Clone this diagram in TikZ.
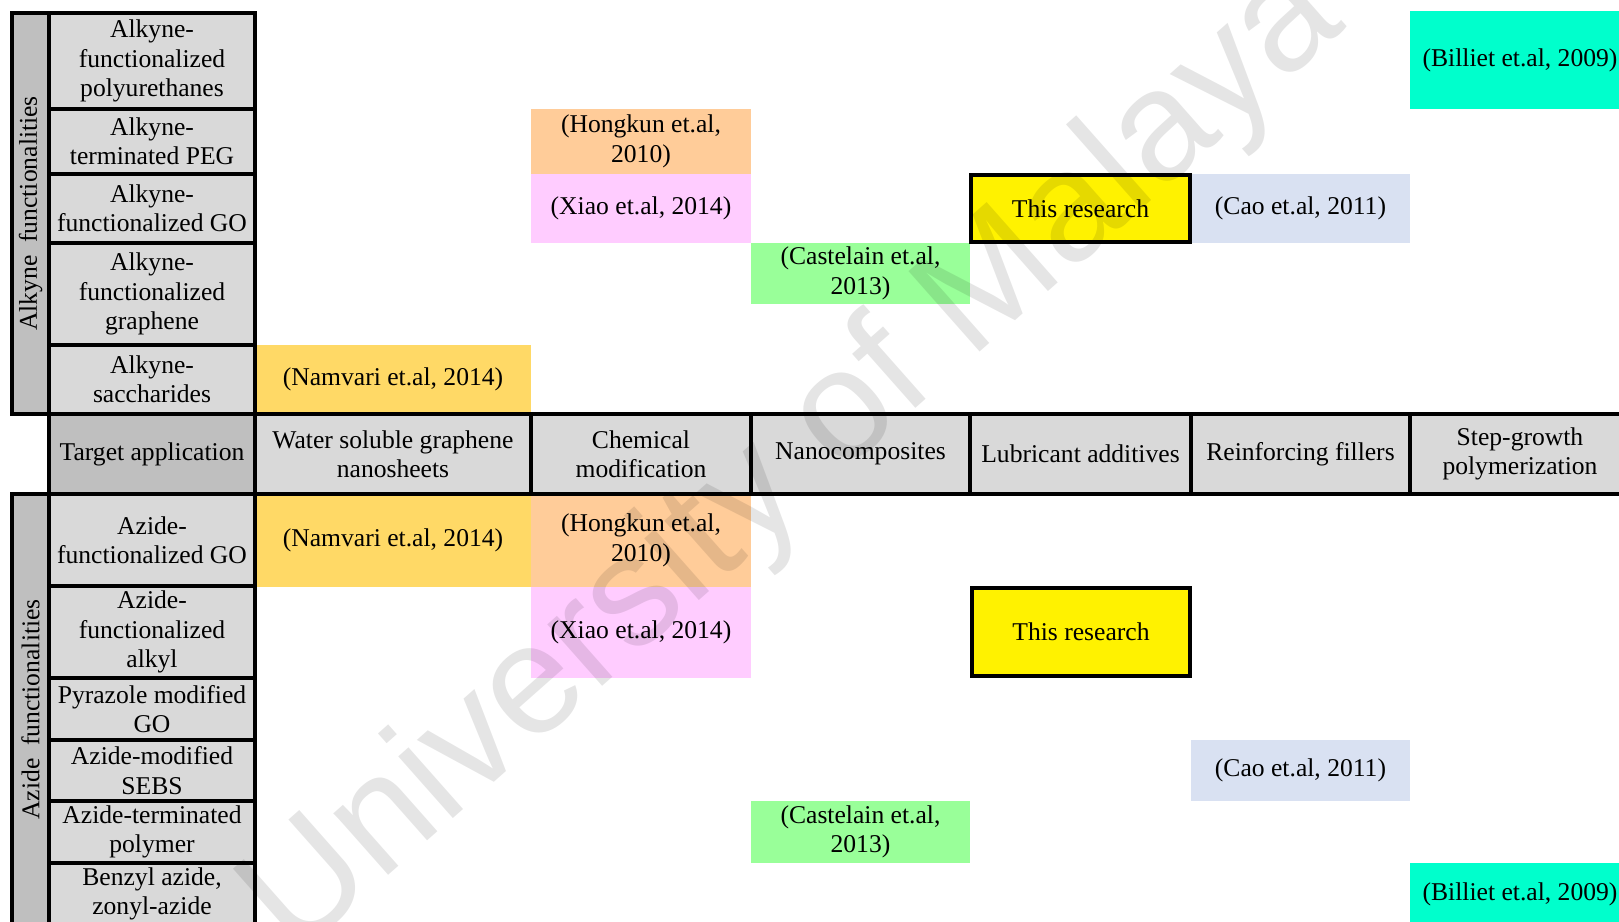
\documentclass[tikz,border=0pt]{standalone}
\usepackage{fontspec}
\setmainfont{Liberation Serif}
\newfontfamily\wmfont{Liberation Sans}
\definecolor{labgray}{RGB}{217,217,217}
\definecolor{grpgray}{RGB}{191,191,191}
\definecolor{namgold}{RGB}{255,217,102}
\definecolor{hongpeach}{RGB}{255,204,153}
\definecolor{xiaopink}{RGB}{255,204,255}
\definecolor{castgreen}{RGB}{153,255,153}
\definecolor{caoblue}{RGB}{217,225,242}
\definecolor{billaqua}{RGB}{0,255,204}

\begin{document}
\begin{tikzpicture}[x=0.5pt,y=-0.5pt]
    \tikzstyle{every node}=[font=\fontsize{12.8}{14.7}\selectfont,align=center,inner sep=0,outer sep=0]
    \tikzstyle{lab}=[draw,line width=2pt,fill=labgray]
    \tikzstyle{grp}=[draw,line width=2pt,fill=grpgray]
    \tikzstyle{cit}=[rectangle]
    \tikzstyle{thisres}=[draw,line width=2pt,fill=yellow]
    \newcommand{\gridnode}[7]{
        \path ({(#2+#4)/2},{(#3+#5)/2}) node[#6,minimum width={(#4-#2)*0.5pt},minimum height={(#5-#3)*0.5pt}] (#1) {#7};
    }
    \useasboundingbox (0,0) rectangle (1619,922);
    % citations, alkyne side
    \gridnode{namA}{255}{345}{531}{414}{cit,fill=namgold}{(Namvari et.al, 2014)}
    \gridnode{hongA}{531}{109}{751}{174}{cit,fill=hongpeach}{(Hongkun et.al,\\2010)}
    \gridnode{xiaoA}{531}{174}{751}{243}{cit,fill=xiaopink}{(Xiao et.al, 2014)}
    \gridnode{castA}{751}{243}{970}{304}{cit,fill=castgreen}{(Castelain et.al,\\2013)}
    \gridnode{caoA}{1191}{174}{1410}{243}{cit,fill=caoblue}{(Cao et.al, 2011)}
    \gridnode{billA}{1410}{11}{1630}{109}{cit,fill=billaqua}{(Billiet et.al, 2009)}
    % citations, azide side
    \gridnode{namB}{255}{494}{531}{587}{cit,fill=namgold}{(Namvari et.al, 2014)}
    \gridnode{hongB}{531}{494}{751}{587}{cit,fill=hongpeach}{(Hongkun et.al,\\2010)}
    \gridnode{xiaoB}{531}{587}{751}{678}{cit,fill=xiaopink}{(Xiao et.al, 2014)}
    \gridnode{caoB}{1191}{740}{1410}{801}{cit,fill=caoblue}{(Cao et.al, 2011)}
    \gridnode{castB}{751}{801}{970}{863}{cit,fill=castgreen}{(Castelain et.al,\\2013)}
    \gridnode{billB}{1410}{863}{1630}{925}{cit,fill=billaqua}{(Billiet et.al, 2009)}
    % alkyne rows
    \gridnode{alkgrp}{12}{13}{49}{414}{grp}{}
    \path (alkgrp.center) node[rotate=90] (alklab) {Alkyne\ \ functionalities};
    \gridnode{alk1}{49}{13}{255}{109}{lab}{Alkyne-\\functionalized\\polyurethanes}
    \gridnode{alk2}{49}{109}{255}{174}{lab}{Alkyne-\\terminated PEG}
    \gridnode{alk3}{49}{174}{255}{243}{lab}{Alkyne-\\functionalized GO}
    \gridnode{alk4}{49}{243}{255}{345}{lab}{Alkyne-\\functionalized\\graphene}
    \gridnode{alk5}{49}{345}{255}{414}{lab}{Alkyne-\\saccharides}
    % header
    \gridnode{tgt}{49}{414}{255}{494}{grp}{Target application}
    \gridnode{app1}{255}{414}{531}{494}{lab}{Water soluble graphene\\nanosheets}
    \gridnode{app2}{531}{414}{751}{494}{lab}{Chemical\\modification}
    \gridnode{app3}{751}{414}{970}{494}{lab}{Nanocomposites}
    \gridnode{app4}{970}{414}{1191}{494}{lab}{Lubricant additives}
    \gridnode{app5}{1191}{414}{1410}{494}{lab}{Reinforcing fillers}
    \gridnode{app6}{1410}{414}{1630}{494}{lab}{Step-growth\\polymerization}
    % azide rows
    \gridnode{azgrp}{12}{494}{49}{925}{grp}{}
    \path (azgrp.center) node[rotate=90] (azlab) {Azide\ \ functionalities};
    \gridnode{az1}{49}{494}{255}{586}{lab}{Azide-\\functionalized GO}
    \gridnode{az2}{49}{586}{255}{678}{lab}{Azide-\\functionalized\\alkyl}
    \gridnode{az3}{49}{678}{255}{740}{lab}{Pyrazole modified\\GO}
    \gridnode{az4}{49}{740}{255}{801}{lab}{Azide-modified\\SEBS}
    \gridnode{az5}{49}{801}{255}{863}{lab}{Azide-terminated\\polymer}
    \gridnode{az6}{49}{863}{255}{925}{lab}{Benzyl azide,\\zonyl-azide}
    % this research
    \gridnode{thisA}{971}{175}{1190}{242}{thisres}{This research}
    \gridnode{thisB}{972}{588}{1190}{676}{thisres}{This research}
    % watermark
    \path (795,462) node[rotate=41.5,font=\wmfont\fontsize{78}{84}\selectfont,text=black,text opacity=0.1] (wmark) {University of Malaya};
\end{tikzpicture}
\end{document}
